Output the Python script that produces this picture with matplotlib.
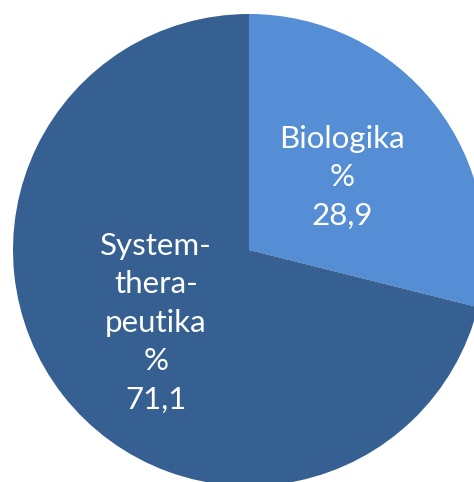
import matplotlib
matplotlib.use('Agg')
import matplotlib.pyplot as plt

# share of patients by therapy type
categories = ['Biologika', 'System-\nthera-\npeutika']
values = [28.9, 71.1]
value_labels = ['28,9', '71,1']
colors = ['#558ED5', '#366092']

plt.rcParams['font.family'] = ['Lato', 'DejaVu Sans']

fig = plt.figure(figsize=(4.74, 4.82), dpi=100)
ax = fig.add_axes([0, 0, 1, 1])

labels = [f'{c}\n%\n{v}' for c, v in zip(categories, value_labels)]
wedges, texts = ax.pie(values, labels=labels, colors=colors, startangle=90,
                       counterclock=False, labeldistance=0.5, radius=1.0,
                       wedgeprops={'linewidth': 0})
for t in texts:
    t.set_ha('center')
    t.set_va('center')
    t.set_color('white')
    t.set_fontsize(22.5)
    t.set_linespacing(1.45)

ax.set_xlim(-249 / 236, 225 / 236)
ax.set_ylim(-232 / 236, 250 / 236)
ax.set_aspect('equal')
ax.axis('off')

fig.savefig('out.png', dpi=100)
